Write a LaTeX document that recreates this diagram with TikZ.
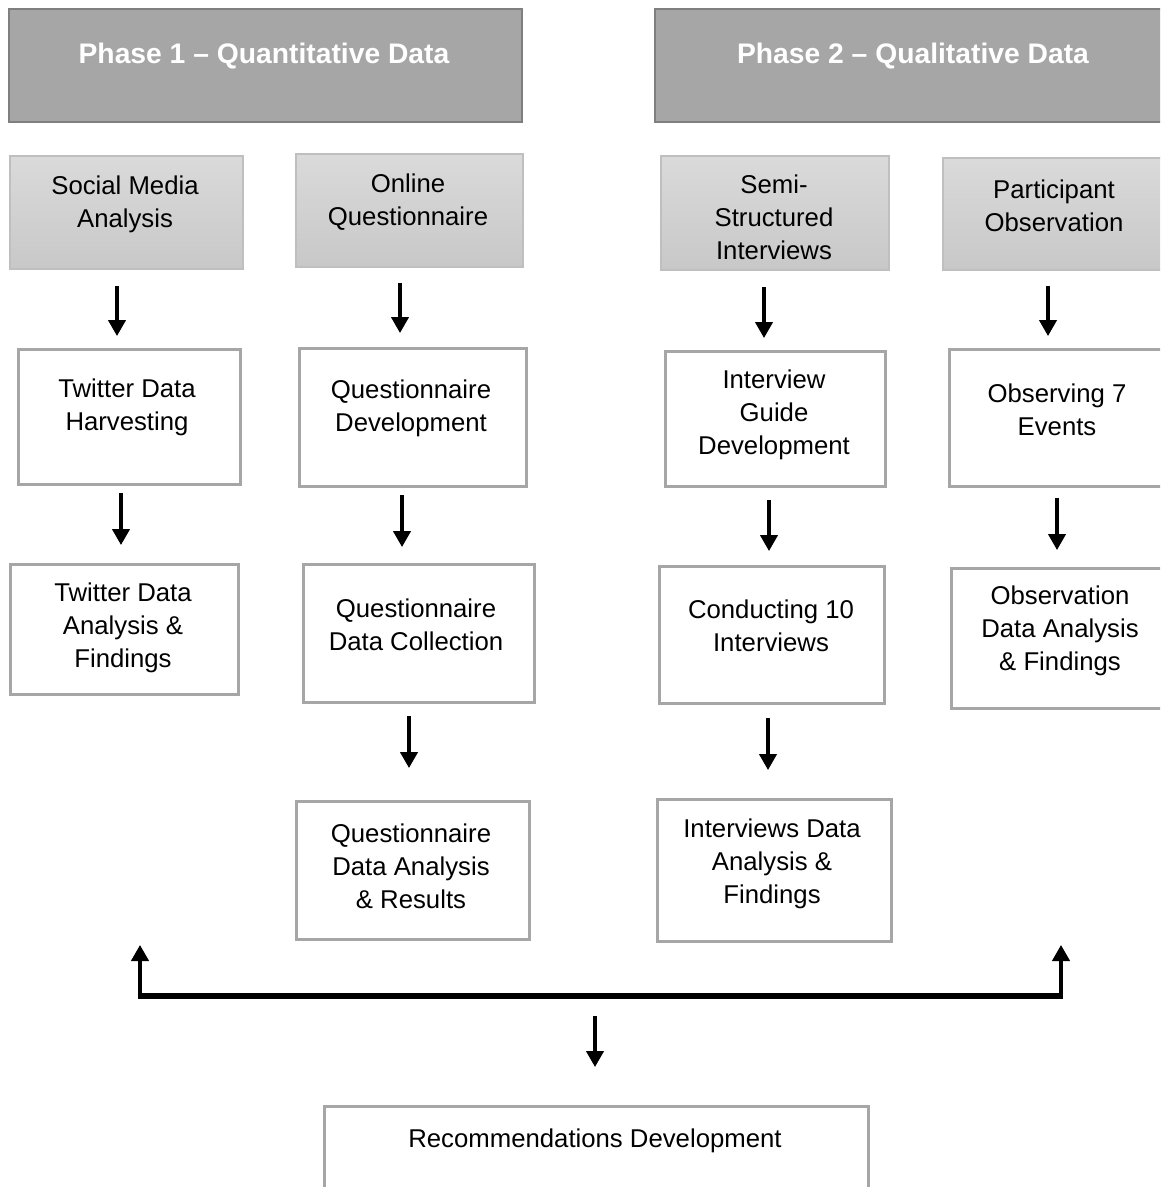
\documentclass[tikz,border=0pt]{standalone}
\usepackage{fontspec}
\setmainfont{Liberation Sans}
\usetikzlibrary{arrows.meta}
\definecolor{hdrfill}{HTML}{A6A6A6}
\definecolor{hdrline}{HTML}{7F7F7F}
\definecolor{srctop}{HTML}{DADADA}
\definecolor{srcbot}{HTML}{C8C8C8}
\definecolor{srcline}{HTML}{BFBFBF}
\definecolor{boxline}{HTML}{A6A6A6}
\begin{document}
\begin{tikzpicture}[x=0.75pt,y=-0.75pt,
  hdr/.style={draw=hdrline,fill=hdrfill,line width=1.6pt,anchor=north west,inner sep=0pt},
  srcbox/.style={draw=srcline,top color=srctop,bottom color=srcbot,line width=1.4pt,anchor=north west,inner sep=0pt},
  stepbox/.style={draw=boxline,fill=white,line width=2.3pt,anchor=north west,inner sep=0pt},
  hdrtxt/.style={font=\bfseries\fontsize{21.2}{25}\selectfont,text=white,inner sep=0pt,yshift=-2.2pt},
  txt/.style={font=\fontsize{19.3}{24.75}\selectfont,align=center,inner sep=0pt,yshift=-2.2pt},
  flow/.style={line width=2.4pt,-{Triangle[length=12pt,width=13pt]}},
  bar/.style={line width=3.8pt}]
\useasboundingbox (0,0) rectangle (1160,1187);
\clip (0,0) rectangle (1160,1187);
\fill[white] (0,0) rectangle (1160,1187);

% phase headers
\node[hdr,minimum width=513*0.75pt,minimum height=113*0.75pt] (h1) at (8,8) {};
\node[hdrtxt] (h1t) at (264,53) {Phase 1 -- Quantitative Data};
\node[hdr,minimum width=530*0.75pt,minimum height=113*0.75pt] (h2) at (654,8) {};
\node[hdrtxt] (h2t) at (913,53) {Phase 2 -- Qualitative Data};

% data sources
\node[srcbox,minimum width=233*0.75pt,minimum height=113*0.75pt] (sma) at (9,155) {};
\node[txt] (smat) at (125,201.5) {Social Media\\Analysis};
\node[srcbox,minimum width=227*0.75pt,minimum height=113*0.75pt] (oq) at (295,153) {};
\node[txt] (oqt) at (408,199.5) {Online\\Questionnaire};
\node[srcbox,minimum width=228*0.75pt,minimum height=114*0.75pt] (ssi) at (660,155) {};
\node[txt] (ssit) at (774,214.5) {Semi-\\Structured\\Interviews};
\node[srcbox,minimum width=235*0.75pt,minimum height=112*0.75pt] (po) at (942,157) {};
\node[txt] (pot) at (1054,202.5) {Participant\\Observation};

% second row
\node[stepbox,minimum width=222*0.75pt,minimum height=135*0.75pt] (twh) at (17,348) {};
\node[txt] (twht) at (127,404.5) {Twitter Data\\Harvesting};
\node[stepbox,minimum width=227*0.75pt,minimum height=138*0.75pt] (qd) at (298,347) {};
\node[txt] (qdt) at (411,405.5) {Questionnaire\\Development};
\node[stepbox,minimum width=220*0.75pt,minimum height=135*0.75pt] (igd) at (664,350) {};
\node[txt] (igdt) at (774,412) {Interview\\Guide\\Development};
\node[stepbox,minimum width=232*0.75pt,minimum height=137*0.75pt] (o7e) at (948,348) {};
\node[txt] (o7et) at (1057,406.5) {Observing 7\\Events};

% third row
\node[stepbox,minimum width=228*0.75pt,minimum height=130*0.75pt] (tdaf) at (9,563) {};
\node[txt] (tdaft) at (123,625) {Twitter Data\\Analysis \&\\Findings};
\node[stepbox,minimum width=231*0.75pt,minimum height=138*0.75pt] (qdc) at (302,563) {};
\node[txt] (qdct) at (416,621.5) {Questionnaire\\Data Collection};
\node[stepbox,minimum width=225*0.75pt,minimum height=137*0.75pt] (c10) at (658,565) {};
\node[txt] (c10t) at (771,622.5) {Conducting 10\\Interviews};
\node[stepbox,minimum width=232*0.75pt,minimum height=140*0.75pt] (odaf) at (950,567) {};
\node[txt] (odaft) at (1060,628) {Observation\\Data Analysis\\\& Findings};

% fourth row
\node[stepbox,minimum width=233*0.75pt,minimum height=138*0.75pt] (qdar) at (295,800) {};
\node[txt] (qdart) at (411,863) {Questionnaire\\Data Analysis\\\& Results};
\node[stepbox,minimum width=234*0.75pt,minimum height=142*0.75pt] (idaf) at (656,798) {};
\node[txt] (idaft) at (772,861) {Interviews Data\\Analysis \&\\Findings};

% final stage
\node[stepbox,minimum width=544*0.75pt,minimum height=110*0.75pt] (rd) at (323,1105) {};
\node[txt] (rdt) at (595,1138) {Recommendations Development};

% arrow end points
\coordinate (a1s) at (117,286);  \coordinate (a1e) at (117,336);
\coordinate (a2s) at (400,283);  \coordinate (a2e) at (400,333);
\coordinate (a3s) at (764,287);  \coordinate (a3e) at (764,338);
\coordinate (a4s) at (1048,286); \coordinate (a4e) at (1048,336);
\coordinate (b1s) at (121,493);  \coordinate (b1e) at (121,545);
\coordinate (b2s) at (402,495);  \coordinate (b2e) at (402,547);
\coordinate (b3s) at (769,500);  \coordinate (b3e) at (769,551);
\coordinate (b4s) at (1057,498); \coordinate (b4e) at (1057,550);
\coordinate (c1s) at (409,716);  \coordinate (c1e) at (409,768);
\coordinate (c2s) at (768,718);  \coordinate (c2e) at (768,770);
\coordinate (jl) at (140,996);   \coordinate (jr) at (1061,996);
\coordinate (ul) at (140,945);   \coordinate (ur) at (1061,945);
\coordinate (ds) at (595,1016);  \coordinate (de) at (595,1067);

\foreach \s/\e in {a1s/a1e,a2s/a2e,a3s/a3e,a4s/a4e,b1s/b1e,b2s/b2e,b3s/b3e,b4s/b4e,c1s/c1e,c2s/c2e,ds/de}
  \draw[flow] (\s) -- (\e);

% joining bracket
\draw[bar] ([xshift=-1.4pt]jl) -- ([xshift=1.4pt]jr);
\draw[flow] (jl) -- (ul);
\draw[flow] (jr) -- (ur);
\end{tikzpicture}
\end{document}
